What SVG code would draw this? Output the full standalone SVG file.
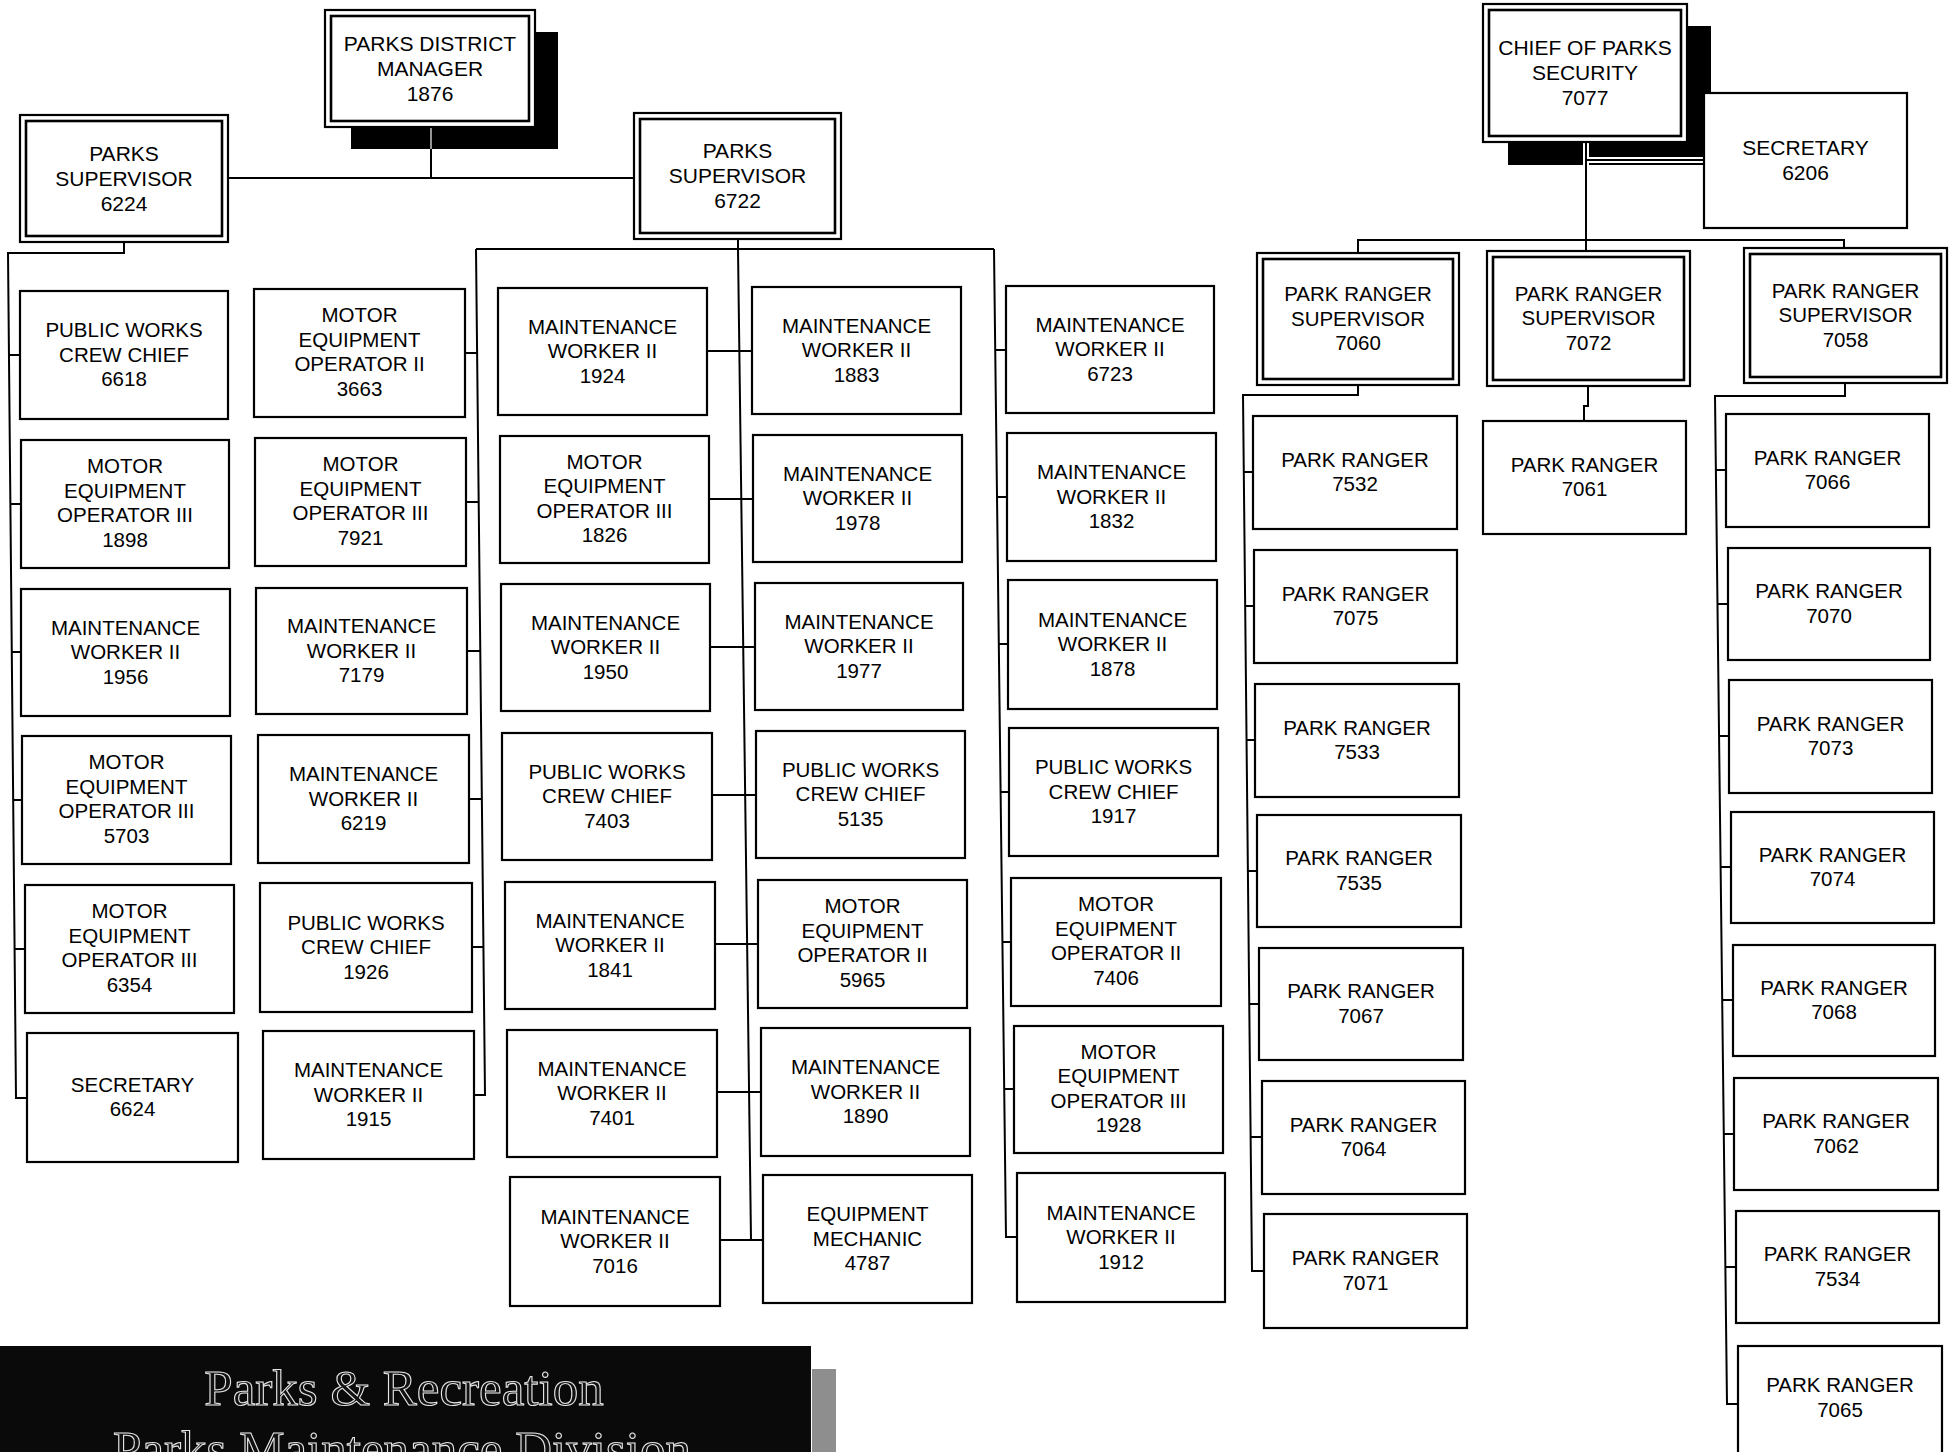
<svg xmlns="http://www.w3.org/2000/svg" width="1949" height="1452" viewBox="0 0 1949 1452">
<style>
.bg{fill:#fff}
.box{fill:#fff;stroke:#000;stroke-width:2.2}
.inner{fill:none;stroke:#000;stroke-width:2.6}
.shadow{fill:#000}
.t{font-family:"Liberation Sans",Arial,sans-serif;font-size:20.5px;text-anchor:middle;fill:#000}
.tt{font-family:"Liberation Sans",Arial,sans-serif;font-size:21px;text-anchor:middle;fill:#000}
.ln{fill:none;stroke:#000;stroke-width:2}
.halo{fill:none;stroke:#fff;stroke-width:6}
.title{font-family:"Liberation Serif","Times New Roman",serif;font-size:51px;text-anchor:middle;fill:#111;stroke:#e6e6e6;stroke-width:1.1}
</style>
<rect class="bg" x="0" y="0" width="1949" height="1452"/>

<!-- shadows -->
<rect class="shadow" x="351" y="32" width="207" height="117"/>
<rect class="shadow" x="1508" y="26" width="203" height="139"/>

<g id="connectors">
  <!-- District manager -->
  <path d="M431 127 V149" stroke="#bbb" stroke-width="1.6" fill="none"/>
  <path class="ln" d="M431 149 V178 M228 178 H634"/>
  <!-- PS6224 to column 1 -->
  <path class="ln" d="M124 242 V253 H8 L16 1098 H27"/>
  <path class="ln" d="M9 355 H20 M10 504 H21 M12 652 H21 M13 800 H22 M15 949 H25"/>
  <!-- PS6722 bracket -->
  <path class="ln" d="M738 239 V249 M476 249 H994"/>
  <!-- column 2 line -->
  <path class="ln" d="M476 249 L485 1095 H474"/>
  <path class="ln" d="M465 353 H477 M466 502 H478.5 M467 651 H480 M469 799 H482 M472 947 H483.5"/>
  <!-- central line -->
  <path class="ln" d="M738 249 L751 1240"/>
  <path class="ln" d="M707 351 H752 M709 499 H753 M710 647 H755 M712 795 H756 M715 944 H758 M717 1092 H761 M720 1240 H763"/>
  <!-- column 5 line -->
  <path class="ln" d="M994 249 L1006 1237 H1017"/>
  <path class="ln" d="M995 350 H1006 M997 497 H1007 M999 644 H1008 M1001 792 H1009 M1002 942 H1011 M1004 1089 H1014"/>
  <!-- Chief of Parks Security -->
  <path class="halo" d="M1586 142 V165 M1586 160 H1704"/>
  <path class="ln" d="M1586 142 V251 M1586 160 H1704"/>
  <path class="ln" d="M1358 253 V240 H1844 V248"/>
  <!-- ranger column A -->
  <path class="ln" d="M1358 385 V395 H1243 L1252 1271 H1264"/>
  <path class="ln" d="M1244 472 H1253 M1245 606 H1254 M1246.5 740 H1255 M1248 871 H1257 M1249 1004 H1259 M1250.5 1137 H1262"/>
  <!-- ranger column B -->
  <path class="ln" d="M1588 386 V406 H1584 V421"/>
  <!-- ranger column C -->
  <path class="ln" d="M1845 383 V396 H1715 L1727 1404 H1738"/>
  <path class="ln" d="M1716 470 H1726 M1717 604 H1728 M1719 736 H1729 M1720 867 H1731 M1722 1000 H1733 M1724 1134 H1734 M1725 1267 H1736"/>
</g>

<!-- top level -->
<g id="n-dm"><rect class="box" x="325" y="10" width="210" height="117"/><rect class="inner" x="331" y="16" width="198" height="105"/>
<text class="tt" y="50.5"><tspan x="430">PARKS DISTRICT</tspan><tspan x="430" dy="25">MANAGER</tspan><tspan x="430" dy="25">1876</tspan></text></g>
<g id="n-ps6224"><rect class="box" x="20" y="115" width="208" height="127"/><rect class="inner" x="26" y="121" width="196" height="115"/>
<text class="tt" y="160.5"><tspan x="124">PARKS</tspan><tspan x="124" dy="25">SUPERVISOR</tspan><tspan x="124" dy="25">6224</tspan></text></g>
<g id="n-ps6722"><rect class="box" x="634" y="113" width="207" height="126"/><rect class="inner" x="640" y="119" width="195" height="114"/>
<text class="tt" y="158"><tspan x="737.5">PARKS</tspan><tspan x="737.5" dy="25">SUPERVISOR</tspan><tspan x="737.5" dy="25">6722</tspan></text></g>
<g id="n-chief"><rect class="box" x="1483" y="4" width="204" height="138"/><rect class="inner" x="1489" y="10" width="192" height="126"/>
<text class="tt" y="55"><tspan x="1585">CHIEF OF PARKS</tspan><tspan x="1585" dy="25">SECURITY</tspan><tspan x="1585" dy="25">7077</tspan></text></g>
<g id="n-sec6206"><rect class="box" x="1704" y="93" width="203" height="135"/>
<text class="tt" y="154.5"><tspan x="1805.5">SECRETARY</tspan><tspan x="1805.5" dy="25">6206</tspan></text></g>
<g id="n-prs7060"><rect class="box" x="1257" y="253" width="202" height="132"/><rect class="inner" x="1263" y="259" width="190" height="120"/>
<text class="t" y="301"><tspan x="1358">PARK RANGER</tspan><tspan x="1358" dy="24.5">SUPERVISOR</tspan><tspan x="1358" dy="24.5">7060</tspan></text></g>
<g id="n-prs7072"><rect class="box" x="1487" y="251" width="203" height="135"/><rect class="inner" x="1493" y="257" width="191" height="123"/>
<text class="t" y="300.5"><tspan x="1588.5">PARK RANGER</tspan><tspan x="1588.5" dy="24.5">SUPERVISOR</tspan><tspan x="1588.5" dy="24.5">7072</tspan></text></g>
<g id="n-prs7058"><rect class="box" x="1744" y="248" width="203" height="135"/><rect class="inner" x="1750" y="254" width="191" height="123"/>
<text class="t" y="297.5"><tspan x="1845.5">PARK RANGER</tspan><tspan x="1845.5" dy="24.5">SUPERVISOR</tspan><tspan x="1845.5" dy="24.5">7058</tspan></text></g>

<!-- column 1 -->
<g id="n-6618"><rect class="box" x="20" y="291" width="208" height="128"/><text class="t" y="337"><tspan x="124">PUBLIC WORKS</tspan><tspan x="124" dy="24.5">CREW CHIEF</tspan><tspan x="124" dy="24.5">6618</tspan></text></g>
<g id="n-1898"><rect class="box" x="21" y="440" width="208" height="128"/><text class="t" y="473"><tspan x="125">MOTOR</tspan><tspan x="125" dy="24.5">EQUIPMENT</tspan><tspan x="125" dy="24.5">OPERATOR III</tspan><tspan x="125" dy="24.5">1898</tspan></text></g>
<g id="n-1956"><rect class="box" x="21" y="589" width="209" height="127"/><text class="t" y="634.5"><tspan x="125.5">MAINTENANCE</tspan><tspan x="125.5" dy="24.5">WORKER II</tspan><tspan x="125.5" dy="24.5">1956</tspan></text></g>
<g id="n-5703"><rect class="box" x="22" y="736" width="209" height="128"/><text class="t" y="769"><tspan x="126.5">MOTOR</tspan><tspan x="126.5" dy="24.5">EQUIPMENT</tspan><tspan x="126.5" dy="24.5">OPERATOR III</tspan><tspan x="126.5" dy="24.5">5703</tspan></text></g>
<g id="n-6354"><rect class="box" x="25" y="885" width="209" height="128"/><text class="t" y="918"><tspan x="129.5">MOTOR</tspan><tspan x="129.5" dy="24.5">EQUIPMENT</tspan><tspan x="129.5" dy="24.5">OPERATOR III</tspan><tspan x="129.5" dy="24.5">6354</tspan></text></g>
<g id="n-6624"><rect class="box" x="27" y="1033" width="211" height="129"/><text class="t" y="1091.5"><tspan x="132.5">SECRETARY</tspan><tspan x="132.5" dy="24.5">6624</tspan></text></g>

<!-- column 2 -->
<g id="n-3663"><rect class="box" x="254" y="289" width="211" height="128"/><text class="t" y="322"><tspan x="359.5">MOTOR</tspan><tspan x="359.5" dy="24.5">EQUIPMENT</tspan><tspan x="359.5" dy="24.5">OPERATOR II</tspan><tspan x="359.5" dy="24.5">3663</tspan></text></g>
<g id="n-7921"><rect class="box" x="255" y="438" width="211" height="128"/><text class="t" y="471"><tspan x="360.5">MOTOR</tspan><tspan x="360.5" dy="24.5">EQUIPMENT</tspan><tspan x="360.5" dy="24.5">OPERATOR III</tspan><tspan x="360.5" dy="24.5">7921</tspan></text></g>
<g id="n-7179"><rect class="box" x="256" y="588" width="211" height="126"/><text class="t" y="633"><tspan x="361.5">MAINTENANCE</tspan><tspan x="361.5" dy="24.5">WORKER II</tspan><tspan x="361.5" dy="24.5">7179</tspan></text></g>
<g id="n-6219"><rect class="box" x="258" y="735" width="211" height="128"/><text class="t" y="781"><tspan x="363.5">MAINTENANCE</tspan><tspan x="363.5" dy="24.5">WORKER II</tspan><tspan x="363.5" dy="24.5">6219</tspan></text></g>
<g id="n-1926"><rect class="box" x="260" y="883" width="212" height="129"/><text class="t" y="929.5"><tspan x="366">PUBLIC WORKS</tspan><tspan x="366" dy="24.5">CREW CHIEF</tspan><tspan x="366" dy="24.5">1926</tspan></text></g>
<g id="n-1915"><rect class="box" x="263" y="1031" width="211" height="128"/><text class="t" y="1077"><tspan x="368.5">MAINTENANCE</tspan><tspan x="368.5" dy="24.5">WORKER II</tspan><tspan x="368.5" dy="24.5">1915</tspan></text></g>

<!-- column 3 -->
<g id="n-1924"><rect class="box" x="498" y="288" width="209" height="127"/><text class="t" y="333.5"><tspan x="602.5">MAINTENANCE</tspan><tspan x="602.5" dy="24.5">WORKER II</tspan><tspan x="602.5" dy="24.5">1924</tspan></text></g>
<g id="n-1826"><rect class="box" x="500" y="436" width="209" height="127"/><text class="t" y="468.5"><tspan x="604.5">MOTOR</tspan><tspan x="604.5" dy="24.5">EQUIPMENT</tspan><tspan x="604.5" dy="24.5">OPERATOR III</tspan><tspan x="604.5" dy="24.5">1826</tspan></text></g>
<g id="n-1950"><rect class="box" x="501" y="584" width="209" height="127"/><text class="t" y="629.5"><tspan x="605.5">MAINTENANCE</tspan><tspan x="605.5" dy="24.5">WORKER II</tspan><tspan x="605.5" dy="24.5">1950</tspan></text></g>
<g id="n-7403"><rect class="box" x="502" y="733" width="210" height="127"/><text class="t" y="778.5"><tspan x="607">PUBLIC WORKS</tspan><tspan x="607" dy="24.5">CREW CHIEF</tspan><tspan x="607" dy="24.5">7403</tspan></text></g>
<g id="n-1841"><rect class="box" x="505" y="882" width="210" height="127"/><text class="t" y="927.5"><tspan x="610">MAINTENANCE</tspan><tspan x="610" dy="24.5">WORKER II</tspan><tspan x="610" dy="24.5">1841</tspan></text></g>
<g id="n-7401"><rect class="box" x="507" y="1030" width="210" height="127"/><text class="t" y="1075.5"><tspan x="612">MAINTENANCE</tspan><tspan x="612" dy="24.5">WORKER II</tspan><tspan x="612" dy="24.5">7401</tspan></text></g>
<g id="n-7016"><rect class="box" x="510" y="1177" width="210" height="129"/><text class="t" y="1223.5"><tspan x="615">MAINTENANCE</tspan><tspan x="615" dy="24.5">WORKER II</tspan><tspan x="615" dy="24.5">7016</tspan></text></g>

<!-- column 4 -->
<g id="n-1883"><rect class="box" x="752" y="287" width="209" height="127"/><text class="t" y="332.5"><tspan x="856.5">MAINTENANCE</tspan><tspan x="856.5" dy="24.5">WORKER II</tspan><tspan x="856.5" dy="24.5">1883</tspan></text></g>
<g id="n-1978"><rect class="box" x="753" y="435" width="209" height="127"/><text class="t" y="480.5"><tspan x="857.5">MAINTENANCE</tspan><tspan x="857.5" dy="24.5">WORKER II</tspan><tspan x="857.5" dy="24.5">1978</tspan></text></g>
<g id="n-1977"><rect class="box" x="755" y="583" width="208" height="127"/><text class="t" y="628.5"><tspan x="859">MAINTENANCE</tspan><tspan x="859" dy="24.5">WORKER II</tspan><tspan x="859" dy="24.5">1977</tspan></text></g>
<g id="n-5135"><rect class="box" x="756" y="731" width="209" height="127"/><text class="t" y="776.5"><tspan x="860.5">PUBLIC WORKS</tspan><tspan x="860.5" dy="24.5">CREW CHIEF</tspan><tspan x="860.5" dy="24.5">5135</tspan></text></g>
<g id="n-5965"><rect class="box" x="758" y="880" width="209" height="128"/><text class="t" y="913"><tspan x="862.5">MOTOR</tspan><tspan x="862.5" dy="24.5">EQUIPMENT</tspan><tspan x="862.5" dy="24.5">OPERATOR II</tspan><tspan x="862.5" dy="24.5">5965</tspan></text></g>
<g id="n-1890"><rect class="box" x="761" y="1028" width="209" height="128"/><text class="t" y="1074"><tspan x="865.5">MAINTENANCE</tspan><tspan x="865.5" dy="24.5">WORKER II</tspan><tspan x="865.5" dy="24.5">1890</tspan></text></g>
<g id="n-4787"><rect class="box" x="763" y="1175" width="209" height="128"/><text class="t" y="1221"><tspan x="867.5">EQUIPMENT</tspan><tspan x="867.5" dy="24.5">MECHANIC</tspan><tspan x="867.5" dy="24.5">4787</tspan></text></g>

<!-- column 5 -->
<g id="n-6723"><rect class="box" x="1006" y="286" width="208" height="127"/><text class="t" y="331.5"><tspan x="1110">MAINTENANCE</tspan><tspan x="1110" dy="24.5">WORKER II</tspan><tspan x="1110" dy="24.5">6723</tspan></text></g>
<g id="n-1832"><rect class="box" x="1007" y="433" width="209" height="128"/><text class="t" y="479"><tspan x="1111.5">MAINTENANCE</tspan><tspan x="1111.5" dy="24.5">WORKER II</tspan><tspan x="1111.5" dy="24.5">1832</tspan></text></g>
<g id="n-1878"><rect class="box" x="1008" y="580" width="209" height="129"/><text class="t" y="626.5"><tspan x="1112.5">MAINTENANCE</tspan><tspan x="1112.5" dy="24.5">WORKER II</tspan><tspan x="1112.5" dy="24.5">1878</tspan></text></g>
<g id="n-1917"><rect class="box" x="1009" y="728" width="209" height="128"/><text class="t" y="774"><tspan x="1113.5">PUBLIC WORKS</tspan><tspan x="1113.5" dy="24.5">CREW CHIEF</tspan><tspan x="1113.5" dy="24.5">1917</tspan></text></g>
<g id="n-7406"><rect class="box" x="1011" y="878" width="210" height="128"/><text class="t" y="911"><tspan x="1116">MOTOR</tspan><tspan x="1116" dy="24.5">EQUIPMENT</tspan><tspan x="1116" dy="24.5">OPERATOR II</tspan><tspan x="1116" dy="24.5">7406</tspan></text></g>
<g id="n-1928"><rect class="box" x="1014" y="1026" width="209" height="127"/><text class="t" y="1058.5"><tspan x="1118.5">MOTOR</tspan><tspan x="1118.5" dy="24.5">EQUIPMENT</tspan><tspan x="1118.5" dy="24.5">OPERATOR III</tspan><tspan x="1118.5" dy="24.5">1928</tspan></text></g>
<g id="n-1912"><rect class="box" x="1017" y="1173" width="208" height="129"/><text class="t" y="1219.5"><tspan x="1121">MAINTENANCE</tspan><tspan x="1121" dy="24.5">WORKER II</tspan><tspan x="1121" dy="24.5">1912</tspan></text></g>

<!-- ranger column A -->
<g id="n-7532"><rect class="box" x="1253" y="416" width="204" height="113"/><text class="t" y="466.5"><tspan x="1355">PARK RANGER</tspan><tspan x="1355" dy="24.5">7532</tspan></text></g>
<g id="n-7075"><rect class="box" x="1254" y="550" width="203" height="113"/><text class="t" y="600.5"><tspan x="1355.5">PARK RANGER</tspan><tspan x="1355.5" dy="24.5">7075</tspan></text></g>
<g id="n-7533"><rect class="box" x="1255" y="684" width="204" height="113"/><text class="t" y="734.5"><tspan x="1357">PARK RANGER</tspan><tspan x="1357" dy="24.5">7533</tspan></text></g>
<g id="n-7535"><rect class="box" x="1257" y="815" width="204" height="112"/><text class="t" y="865"><tspan x="1359">PARK RANGER</tspan><tspan x="1359" dy="24.5">7535</tspan></text></g>
<g id="n-7067"><rect class="box" x="1259" y="948" width="204" height="112"/><text class="t" y="998"><tspan x="1361">PARK RANGER</tspan><tspan x="1361" dy="24.5">7067</tspan></text></g>
<g id="n-7064"><rect class="box" x="1262" y="1081" width="203" height="113"/><text class="t" y="1131.5"><tspan x="1363.5">PARK RANGER</tspan><tspan x="1363.5" dy="24.5">7064</tspan></text></g>
<g id="n-7071"><rect class="box" x="1264" y="1214" width="203" height="114"/><text class="t" y="1265"><tspan x="1365.5">PARK RANGER</tspan><tspan x="1365.5" dy="24.5">7071</tspan></text></g>

<!-- ranger column B -->
<g id="n-7061"><rect class="box" x="1483" y="421" width="203" height="113"/><text class="t" y="471.5"><tspan x="1584.5">PARK RANGER</tspan><tspan x="1584.5" dy="24.5">7061</tspan></text></g>

<!-- ranger column C -->
<g id="n-7066"><rect class="box" x="1726" y="414" width="203" height="113"/><text class="t" y="464.5"><tspan x="1827.5">PARK RANGER</tspan><tspan x="1827.5" dy="24.5">7066</tspan></text></g>
<g id="n-7070"><rect class="box" x="1728" y="548" width="202" height="112"/><text class="t" y="598"><tspan x="1829">PARK RANGER</tspan><tspan x="1829" dy="24.5">7070</tspan></text></g>
<g id="n-7073"><rect class="box" x="1729" y="680" width="203" height="113"/><text class="t" y="730.5"><tspan x="1830.5">PARK RANGER</tspan><tspan x="1830.5" dy="24.5">7073</tspan></text></g>
<g id="n-7074"><rect class="box" x="1731" y="812" width="203" height="111"/><text class="t" y="861.5"><tspan x="1832.5">PARK RANGER</tspan><tspan x="1832.5" dy="24.5">7074</tspan></text></g>
<g id="n-7068"><rect class="box" x="1733" y="945" width="202" height="111"/><text class="t" y="994.5"><tspan x="1834">PARK RANGER</tspan><tspan x="1834" dy="24.5">7068</tspan></text></g>
<g id="n-7062"><rect class="box" x="1734" y="1078" width="204" height="112"/><text class="t" y="1128"><tspan x="1836">PARK RANGER</tspan><tspan x="1836" dy="24.5">7062</tspan></text></g>
<g id="n-7534"><rect class="box" x="1736" y="1211" width="203" height="112"/><text class="t" y="1261"><tspan x="1837.5">PARK RANGER</tspan><tspan x="1837.5" dy="24.5">7534</tspan></text></g>
<g id="n-7065"><rect class="box" x="1738" y="1346" width="204" height="120"/><text class="t" y="1392"><tspan x="1840">PARK RANGER</tspan><tspan x="1840" dy="24.5">7065</tspan></text></g>

<!-- title banner -->
<g id="banner">
  <rect x="0" y="1346" width="811" height="106" fill="#0a0a0a"/>
  <rect x="812" y="1369" width="24" height="83" fill="#8e8e8e"/>
  <text class="title" x="404" y="1405">Parks &amp; Recreation</text>
  <text class="title" x="402" y="1466">Parks Maintenance Division</text>
</g>
</svg>
